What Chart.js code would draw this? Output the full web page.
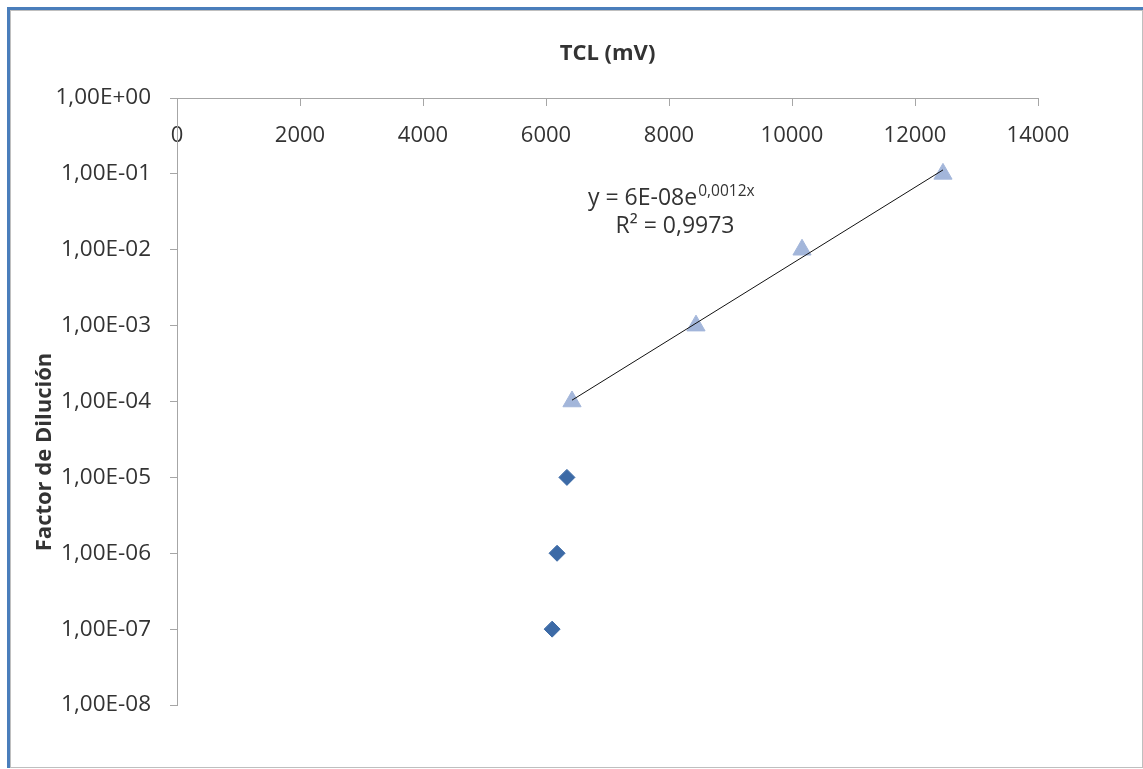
<!DOCTYPE html>
<html>
<head>
<meta charset="utf-8">
<script src="https://cdn.jsdelivr.net/npm/chart.js@4.4.0/dist/chart.umd.min.js"></script>
<style>
  body { margin: 0; background: #fff; }
  #outer { position: absolute; left: 7px; top: 7px; border-top: 3px solid #4A7EBB; border-left: 3px solid #4A7EBB; }
  #frame { border: 1px solid #BFBFBF; width: 1131px; height: 756px; background: #fff; }
  canvas { display: block; }
</style>
</head>
<body>
<div id="outer"><div id="frame"><canvas id="myChart" width="1131" height="756"></canvas></div></div>
<script>
// data
const diamondX = [6340, 6180, 6100];
const diamondY = [1e-5, 1e-6, 1e-7];
const triangleX = [6423, 8439, 10163, 12455];
const triangleY = [1e-4, 1e-3, 1e-2, 1e-1];

const xTicks = [0, 2000, 4000, 6000, 8000, 10000, 12000, 14000];
const yTicks = [1e-8, 1e-7, 1e-6, 1e-5, 1e-4, 1e-3, 1e-2, 1e-1, 1e0];
const yTickLabels = ['1,00E-08', '1,00E-07', '1,00E-06', '1,00E-05', '1,00E-04', '1,00E-03', '1,00E-02', '1,00E-01', '1,00E+00'];

const xTitle = 'TCL (mV)';
const yTitle = 'Factor de Dilución';
const eqMain = 'y = 6E-08e';
const eqSup = '0,0012x';
const eqR2 = 'R² = 0,9973';

// exponential trendline (least squares on ln y) over the triangle series
function expFit(xs, ys) {
  let n = xs.length, sx = 0, sy = 0, sxx = 0, sxy = 0;
  for (let i = 0; i < n; i++) {
    let ly = Math.log(ys[i]);
    sx += xs[i]; sy += ly; sxx += xs[i] * xs[i]; sxy += xs[i] * ly;
  }
  let b = (n * sxy - sx * sy) / (n * sxx - sx * sx);
  let a = Math.exp((sy - b * sx) / n);
  return { a: a, b: b };
}
const fit = expFit(triangleX, triangleY);
const trendX = [Math.min(...triangleX), Math.max(...triangleX)];

const font = '"Open Sans", "Liberation Sans", sans-serif';
const textColor = '#333333';
const axisColor = '#A6A6A6';

const textPlugin = {
  id: 'texts',
  afterDraw(chart) {
    let ctx = chart.ctx;
    ctx.save();
    ctx.fillStyle = textColor;
    // y title
    ctx.save();
    ctx.translate(34, 441);
    ctx.rotate(-Math.PI / 2);
    ctx.font = 'bold 22px ' + font;
    ctx.textAlign = 'center';
    ctx.textBaseline = 'middle';
    ctx.fillText(yTitle, 0, 0);
    ctx.restore();
    // trendline label
    ctx.textBaseline = 'alphabetic';
    ctx.textAlign = 'left';
    ctx.font = '23px ' + font;
    let x0 = 577, y0 = 194;
    ctx.fillText(eqMain, x0, y0);
    let w = ctx.measureText(eqMain).width;
    ctx.font = '15.5px ' + font;
    ctx.fillText(eqSup, x0 + w + 1, y0 - 9);
    ctx.font = '23px ' + font;
    ctx.textAlign = 'center';
    ctx.fillText(eqR2, 664, 222);
    ctx.restore();
  }
};

const config = {
  type: 'scatter',
  data: {
    datasets: [
      {
        label: 'trend',
        data: trendX.map(x => ({ x: x, y: fit.a * Math.exp(fit.b * x) })),
        showLine: true,
        borderColor: '#111111',
        borderWidth: 1,
        pointRadius: 0,
        order: 0
      },
      {
        label: 'tri',
        data: triangleX.map((x, i) => ({ x: x, y: triangleY[i] })),
        pointStyle: 'triangle',
        pointRadius: 10.5,
        backgroundColor: '#A3B6DA',
        borderColor: '#A3B6DA',
        order: 1
      },
      {
        label: 'dia',
        data: diamondX.map((x, i) => ({ x: x, y: diamondY[i] })),
        pointStyle: 'rectRot',
        pointRadius: 8,
        backgroundColor: '#3C6AA6',
        borderColor: '#3C6AA6',
        order: 1
      }
    ]
  },
  options: {
    responsive: false,
    animation: false,
    layout: { padding: { left: 0, right: 104, top: 0, bottom: 62 } },
    plugins: {
      legend: { display: false },
      tooltip: { enabled: false },
      title: {
        display: true,
        text: xTitle,
        fullSize: false,
        color: textColor,
        font: { family: font, size: 22, weight: 'bold', lineHeight: 1.2 },
        padding: { top: 30, bottom: 30.6 }
      }
    },
    scales: {
      x: {
        type: 'linear',
        position: { y: 1 },
        min: 0,
        max: 14000,
        afterBuildTicks: (scale) => { scale.ticks = xTicks.map(v => ({ value: v })); },
        ticks: {
          callback: (v) => String(v),
          color: textColor,
          font: { family: font, size: 22 },
          padding: 18,
          maxRotation: 0,
          autoSkip: false
        },
        grid: { drawOnChartArea: false, tickLength: 7, color: axisColor },
        border: { color: axisColor, width: 1 }
      },
      y: {
        type: 'logarithmic',
        position: 'left',
        min: 1e-8,
        max: 1,
        afterBuildTicks: (scale) => { scale.ticks = yTicks.map(v => ({ value: v })); },
        afterFit: (scale) => { scale.width = 166; },
        ticks: {
          callback: (v, i) => yTickLabels[i],
          color: textColor,
          font: { family: font, size: 22.5 },
          padding: 19,
          autoSkip: false
        },
        grid: { drawOnChartArea: false, tickLength: 7, color: axisColor },
        border: { color: axisColor, width: 1 }
      }
    }
  },
  plugins: [textPlugin]
};

const myChart = new Chart(document.getElementById('myChart'), config);
</script>
</body>
</html>
